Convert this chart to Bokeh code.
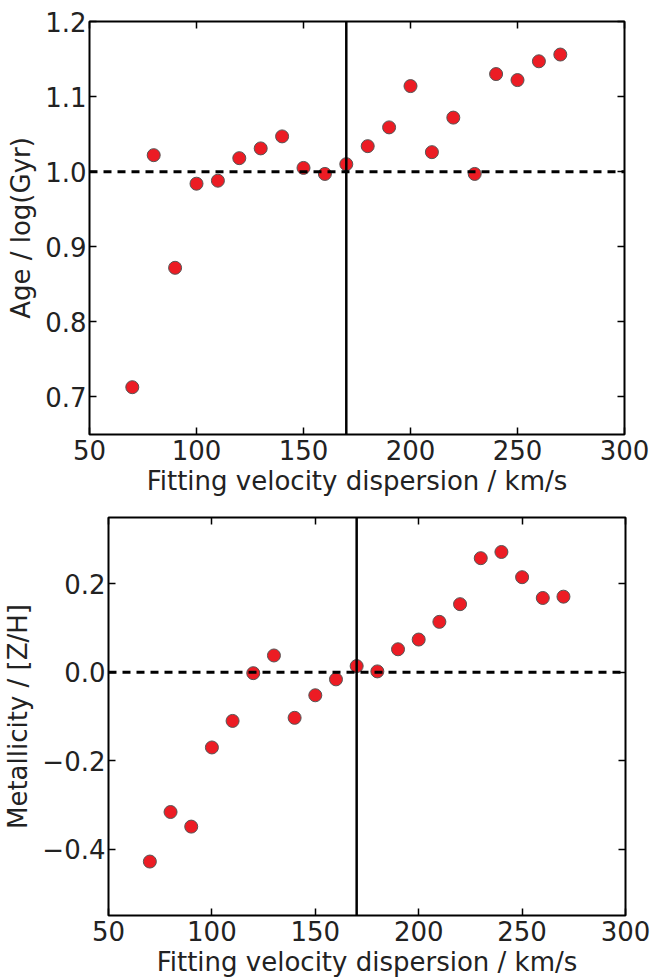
from bokeh.plotting import figure
from bokeh.models import Range1d, Span, LinearAxis, FixedTicker, CustomJSTickFormatter, ColumnDataSource
from bokeh.embed import file_html
from bokeh.resources import INLINE

# ---- data ----
sigma = [70, 80, 90, 100, 110, 120, 130, 140, 150, 160, 170,
         180, 190, 200, 210, 220, 230, 240, 250, 260, 270]
age = [0.713, 1.022, 0.872, 0.984, 0.988, 1.018, 1.031, 1.047, 1.005, 0.997, 1.010,
       1.034, 1.059, 1.114, 1.026, 1.072, 0.997, 1.130, 1.122, 1.147, 1.156]
metal = [-0.428, -0.316, -0.349, -0.170, -0.110, -0.002, 0.038, -0.103, -0.052, -0.016, 0.014,
         0.002, 0.052, 0.074, 0.114, 0.154, 0.258, 0.272, 0.215, 0.168, 0.171]
true_sigma = 170
age_ref = 1.0
metal_ref = 0.0
x_ticks = [50, 100, 150, 200, 250, 300]
age_ticks = [0.7, 0.8, 0.9, 1.0, 1.1, 1.2]
metal_ticks = [-0.4, -0.2, 0.0, 0.2]

FONT = "DejaVu Sans"
TXT = "#222222"
FS = "26px"

fmt_x = CustomJSTickFormatter(code="return tick.toFixed(0);")
fmt_y = CustomJSTickFormatter(code="if (Math.abs(tick) < 1e-9) { tick = 0; } return tick.toFixed(1).replace('-', '\u2212');")


def style_axis(ax, ticks, fmt, show_labels=True):
    ax.ticker = FixedTicker(ticks=ticks)
    ax.formatter = fmt
    ax.axis_line_color = None
    ax.major_tick_in = 7
    ax.major_tick_out = 0
    ax.major_tick_line_color = "black"
    ax.major_tick_line_width = 1.5
    ax.minor_tick_line_color = None
    ax.major_label_text_font = FONT
    ax.major_label_text_color = TXT
    ax.axis_label_text_font = FONT
    ax.axis_label_text_color = TXT
    ax.axis_label_text_font_style = "normal"
    if show_labels:
        ax.major_label_text_font_size = FS
        ax.axis_label_text_font_size = FS
    else:
        ax.major_label_text_font_size = "0px"
        ax.major_label_text_color = None


def make_panel(height, ys, yrange, yticks, ylabel, ref, left, top, bottom, right):
    p = figure(width=668, height=height, x_range=Range1d(50, 300), y_range=Range1d(*yrange),
               output_backend="svg", toolbar_location=None,
               min_border_left=left, min_border_right=right,
               min_border_top=top, min_border_bottom=bottom)
    p.grid.visible = False
    p.outline_line_color = "black"
    p.outline_line_width = 2
    p.background_fill_color = "white"
    p.border_fill_color = "white"

    style_axis(p.xaxis[0], x_ticks, fmt_x)
    style_axis(p.yaxis[0], yticks, fmt_y)
    p.xaxis[0].axis_label = "Fitting velocity dispersion / km/s"
    p.yaxis[0].axis_label = ylabel
    p.xaxis[0].major_label_standoff = 5
    p.xaxis[0].axis_label_standoff = 3
    p.yaxis[0].major_label_standoff = 3
    p.yaxis[0].axis_label_standoff = 6

    ra = LinearAxis()
    style_axis(ra, yticks, fmt_y, show_labels=False)
    p.add_layout(ra, "right")
    ta = LinearAxis()
    style_axis(ta, x_ticks, fmt_x, show_labels=False)
    p.add_layout(ta, "above")

    p.add_layout(Span(location=ref, dimension="width", line_color="black",
                      line_width=3, line_dash="8 6"))
    p.add_layout(Span(location=true_sigma, dimension="height", line_color="black",
                      line_width=2.5))

    src = ColumnDataSource(dict(x=sigma, y=ys))
    p.scatter("x", "y", source=src, size=13, fill_color="#ec1c24",
              line_color="#555555", line_width=1)
    return p


p1 = make_panel(500, age, (0.65, 1.2), age_ticks, "Age / log(Gyr)", age_ref,
                left=89, top=21, bottom=66, right=44)
p2 = make_panel(479, metal, (-0.55, 0.35), metal_ticks, "Metallicity / [Z/H]", metal_ref,
                left=107, top=17, bottom=62, right=43)

open("out.html", "w").write(file_html([p1, p2], INLINE))
